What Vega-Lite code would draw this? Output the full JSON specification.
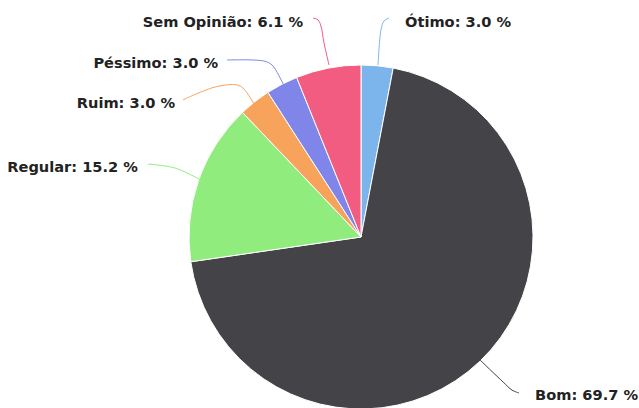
{
  "$schema": "https://vega.github.io/schema/vega-lite/v6.json",
  "width": 344,
  "height": 344,
  "autosize": "none",
  "padding": {"left": 189, "top": 65, "right": 106, "bottom": 0},
  "background": "white",
  "config": {"view": {"stroke": null}},
  "datasets": {
    "slices": [
      {"cat": "Ótimo", "pct": 3.0, "ord": 1, "label": "Ótimo: 3.0 %", "side": "right", "lx": 0.256, "ly": 1.244},
      {"cat": "Bom", "pct": 69.7, "ord": 2, "label": "Bom: 69.7 %", "side": "right", "lx": 1.012, "ly": -0.927},
      {"cat": "Regular", "pct": 15.2, "ord": 3, "label": "Regular: 15.2 %", "side": "left", "lx": -1.297, "ly": 0.404},
      {"cat": "Ruim", "pct": 3.0, "ord": 4, "label": "Ruim: 3.0 %", "side": "left", "lx": -1.081, "ly": 0.773},
      {"cat": "Péssimo", "pct": 3.0, "ord": 5, "label": "Péssimo: 3.0 %", "side": "left", "lx": -0.831, "ly": 1.006},
      {"cat": "Sem Opinião", "pct": 6.1, "ord": 6, "label": "Sem Opinião: 6.1 %", "side": "left", "lx": -0.337, "ly": 1.247}
    ],
    "connectors": [
      {"cat": "Ótimo", "i": 1, "x": 0.163, "y": 1.273},
      {"cat": "Ótimo", "i": 2, "x": 0.134, "y": 1.256},
      {"cat": "Ótimo", "i": 3, "x": 0.116, "y": 1.203},
      {"cat": "Ótimo", "i": 4, "x": 0.099, "y": 1.0},
      {"cat": "Sem Opinião", "i": 1, "x": -0.279, "y": 1.273},
      {"cat": "Sem Opinião", "i": 2, "x": -0.25, "y": 1.262},
      {"cat": "Sem Opinião", "i": 3, "x": -0.233, "y": 1.227},
      {"cat": "Sem Opinião", "i": 4, "x": -0.215, "y": 1.128},
      {"cat": "Sem Opinião", "i": 5, "x": -0.186, "y": 1.0},
      {"cat": "Péssimo", "i": 1, "x": -0.779, "y": 1.029},
      {"cat": "Péssimo", "i": 2, "x": -0.564, "y": 1.023},
      {"cat": "Péssimo", "i": 3, "x": -0.517, "y": 1.0},
      {"cat": "Péssimo", "i": 4, "x": -0.453, "y": 0.89},
      {"cat": "Ruim", "i": 1, "x": -1.035, "y": 0.797},
      {"cat": "Ruim", "i": 2, "x": -0.849, "y": 0.872},
      {"cat": "Ruim", "i": 3, "x": -0.721, "y": 0.884},
      {"cat": "Ruim", "i": 4, "x": -0.68, "y": 0.86},
      {"cat": "Ruim", "i": 5, "x": -0.622, "y": 0.773},
      {"cat": "Regular", "i": 1, "x": -1.238, "y": 0.424},
      {"cat": "Regular", "i": 2, "x": -1.081, "y": 0.401},
      {"cat": "Regular", "i": 3, "x": -0.93, "y": 0.331},
      {"cat": "Bom", "i": 1, "x": 0.692, "y": -0.715},
      {"cat": "Bom", "i": 2, "x": 0.826, "y": -0.843},
      {"cat": "Bom", "i": 3, "x": 0.878, "y": -0.89},
      {"cat": "Bom", "i": 4, "x": 0.919, "y": -0.907}
    ]
  },
  "layer": [
    {
      "data": {"name": "slices"},
      "mark": {"type": "arc", "stroke": "white", "strokeWidth": 1},
      "encoding": {
        "theta": {"field": "pct", "type": "quantitative", "stack": true},
        "order": {"field": "ord", "type": "quantitative"},
        "color": {
          "field": "cat",
          "type": "nominal",
          "legend": null,
          "scale": {
            "domain": ["Ótimo", "Bom", "Regular", "Ruim", "Péssimo", "Sem Opinião"],
            "range": ["#7cb5ec", "#434348", "#90ed7d", "#f7a35c", "#8085e9", "#f15c80"]
          }
        }
      }
    },
    {
      "data": {"name": "connectors"},
      "mark": {"type": "line", "strokeWidth": 1, "interpolate": "catmull-rom", "clip": false},
      "encoding": {
        "x": {"field": "x", "type": "quantitative", "scale": {"domain": [-1, 1], "nice": false, "zero": false}, "axis": null},
        "y": {"field": "y", "type": "quantitative", "scale": {"domain": [-1, 1], "nice": false, "zero": false}, "axis": null},
        "color": {"field": "cat", "type": "nominal", "legend": null},
        "order": {"field": "i", "type": "quantitative"}
      }
    },
    {
      "data": {"name": "slices"},
      "transform": [{"filter": "datum.side == 'left'"}],
      "mark": {"type": "text", "align": "right", "baseline": "middle", "font": "DejaVu Sans", "fontWeight": "bold", "fontSize": 14.6, "color": "#222222", "clip": false},
      "encoding": {
        "x": {"field": "lx", "type": "quantitative"},
        "y": {"field": "ly", "type": "quantitative"},
        "text": {"field": "label", "type": "nominal"}
      }
    },
    {
      "data": {"name": "slices"},
      "transform": [{"filter": "datum.side == 'right'"}],
      "mark": {"type": "text", "align": "left", "baseline": "middle", "font": "DejaVu Sans", "fontWeight": "bold", "fontSize": 14.6, "color": "#222222", "clip": false},
      "encoding": {
        "x": {"field": "lx", "type": "quantitative"},
        "y": {"field": "ly", "type": "quantitative"},
        "text": {"field": "label", "type": "nominal"}
      }
    }
  ]
}
